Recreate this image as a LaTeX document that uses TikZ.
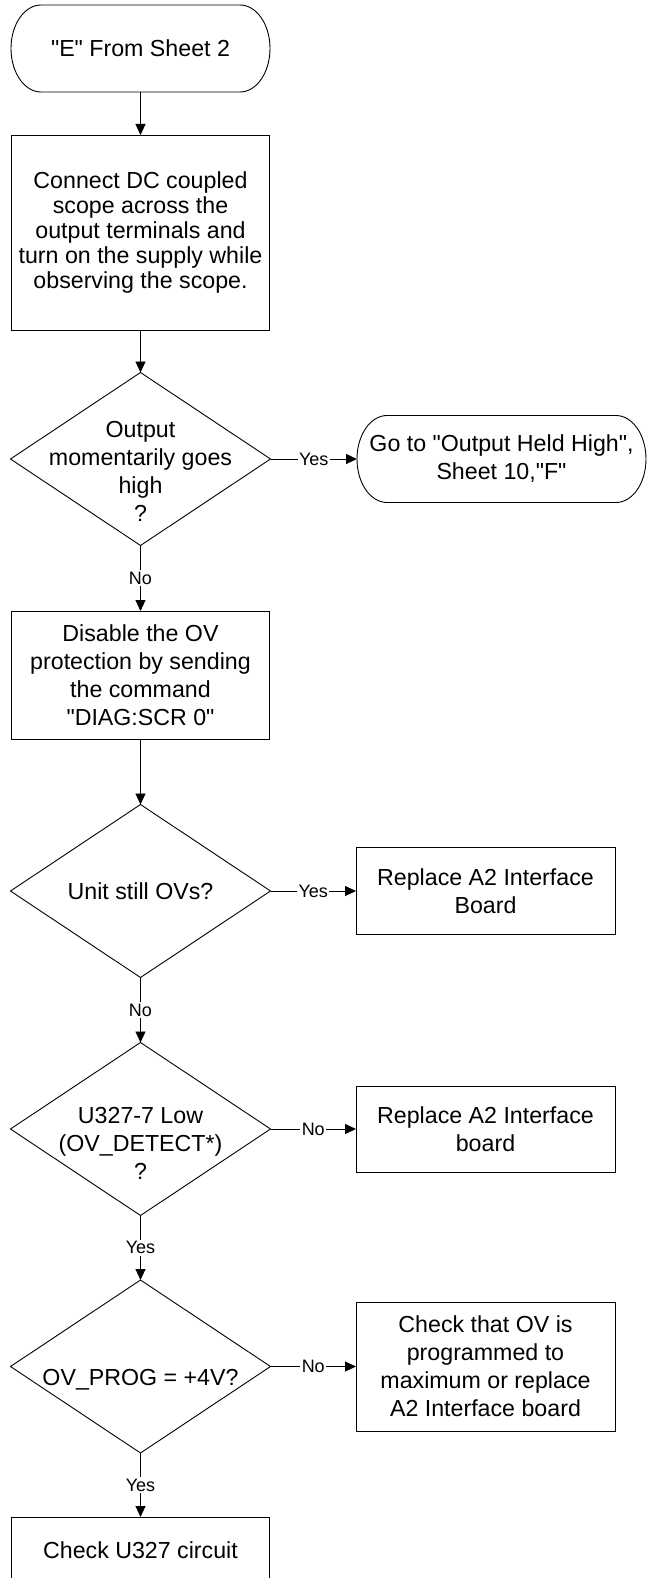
\documentclass[tikz,border=0pt]{standalone}
\usepackage{fontspec}
\setmainfont{Liberation Sans}[Ligatures=TeXOff]
\usetikzlibrary{arrows.meta,shapes.geometric}
\newcommand{\drawterm}[3]{%
  \draw[line width=0.9pt] ([xshift=#2]#1.north west) -- ([xshift=-#2]#1.north east)
    arc[start angle=90,end angle=-90,x radius=#2,y radius=#3]
    -- ([xshift=#2]#1.south west)
    arc[start angle=270,end angle=90,x radius=#2,y radius=#3] -- cycle;}
\begin{document}
\begin{tikzpicture}[x=1pt,y=-1pt,
  every node/.style={inner sep=0pt, outer sep=0pt},
  txt/.style={align=center, font=\fontsize{23.2}{28}\selectfont},
  term/.style={txt, rectangle, minimum height=87pt},
  procbox/.style={txt, rectangle, draw, line width=0.9pt},
  dia/.style={diamond, draw, line width=0.9pt, minimum width=260pt, minimum height=173pt},
  lab/.style={fill=white, inner sep=1.5pt, font=\fontsize{18}{20}\selectfont},
  arr/.style={line width=0.9pt, -{Triangle[length=11pt,width=10pt]}}
]
\useasboundingbox (0,0) rectangle (648,1578);
\fill[white] (0,0) rectangle (648,1578);

% left column
\node[term, minimum width=259pt] (start) at (140.5,48.5) {"E" From Sheet 2};
\drawterm{start}{30pt}{43.5pt}
\node[procbox, minimum width=258pt, minimum height=195pt,
      font=\fontsize{23.2}{25}\selectfont] (b1) at (140.5,232.5)
  {Connect DC coupled\\scope across the\\output terminals and\\turn on the supply while\\observing the scope.};
\node[dia] (d1) at (140.5,459) {};
\node[txt] (d1t) at (140.5,471) {Output\\momentarily goes\\high\\?};
\node[procbox, minimum width=258pt, minimum height=128pt] (b2) at (140.5,675)
  {Disable the OV\\protection by sending\\the command\\"DIAG:SCR 0"};
\node[dia] (d2) at (140.5,891) {};
\node[txt] (d2t) at (140.5,891) {Unit still OVs?};
\node[dia] (d3) at (140.5,1129) {};
\node[txt] (d3t) at (140.5,1143) {U327-7 Low\\(OV\_DETECT*)\\?};
\node[dia] (d4) at (140.5,1366.5) {};
\node[txt] (d4t) at (140.5,1380) {OV\_PROG = +4V?};
\node[procbox, minimum width=258pt, minimum height=66pt] (b3) at (140.5,1550)
  {Check U327 circuit};

% right column
\node[term, minimum width=289pt] (r1) at (501.5,459) {Go to "Output Held High",\\Sheet 10,"F"};
\drawterm{r1}{30pt}{43.5pt}
\node[procbox, minimum width=259pt, minimum height=87pt] (r2) at (485.5,891)
  {Replace A2 Interface\\Board};
\node[procbox, minimum width=259pt, minimum height=86pt] (r3) at (485.5,1129)
  {Replace A2 Interface\\board};
\node[procbox, minimum width=259pt, minimum height=129pt] (r4) at (485.5,1366.5)
  {Check that OV is\\programmed to\\maximum or replace\\A2 Interface board};

% connectors
\draw[arr] (start.south) -- (b1.north);
\draw[arr] (b1.south) -- (d1.north);
\draw[arr] (d1.east) -- node[lab] (l1) {Yes} (r1.west);
\draw[arr] (d1.south) -- node[lab] (l2) {No} (b2.north);
\draw[arr] (b2.south) -- (d2.north);
\draw[arr] (d2.east) -- node[lab] (l3) {Yes} (r2.west);
\draw[arr] (d2.south) -- node[lab] (l4) {No} (d3.north);
\draw[arr] (d3.east) -- node[lab] (l5) {No} (r3.west);
\draw[arr] (d3.south) -- node[lab] (l6) {Yes} (d4.north);
\draw[arr] (d4.east) -- node[lab] (l7) {No} (r4.west);
\draw[arr] (d4.south) -- node[lab] (l8) {Yes} (b3.north);
\end{tikzpicture}
\end{document}
